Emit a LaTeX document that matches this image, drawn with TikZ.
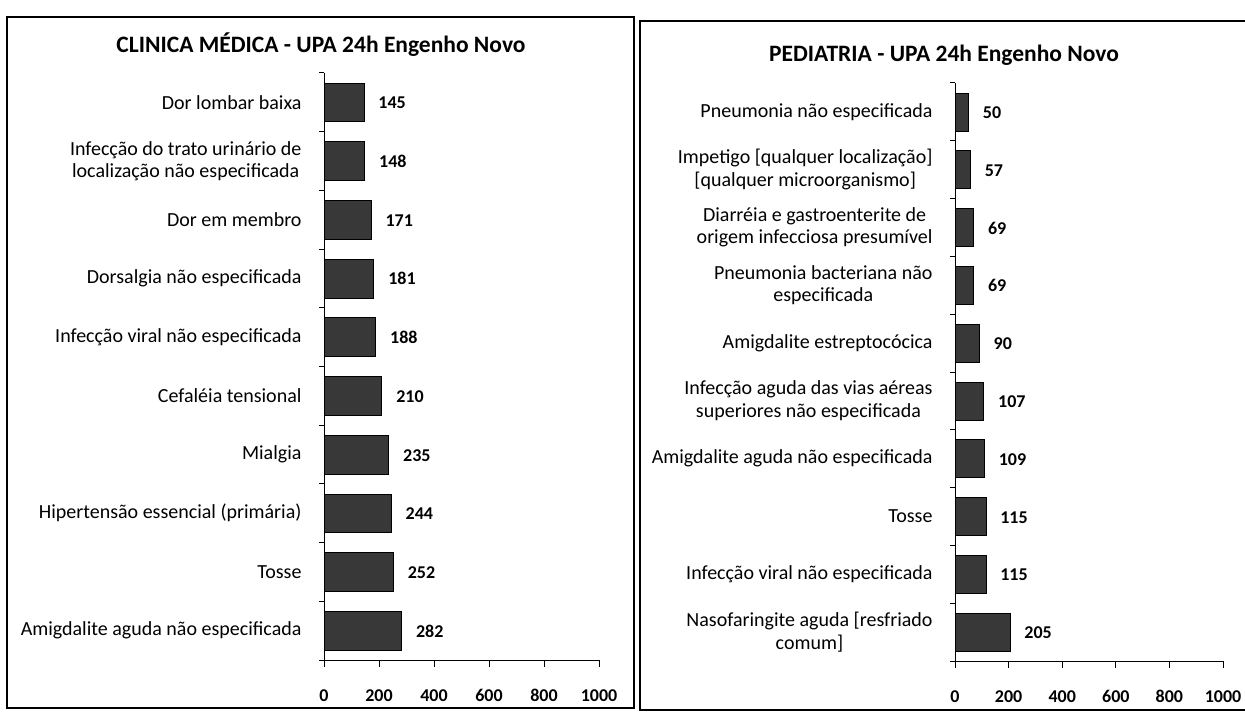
\documentclass[tikz,border=0pt]{standalone}
\usepackage{fontspec}
\setmainfont{Carlito}

\begin{document}
\begin{tikzpicture}[x=1pt, y=-1pt,
    bar/.style={draw=black, fill=black!78, line width=0.6pt},
    cat/.style={anchor=east, align=center, xshift=-19pt, font=\fontsize{20}{22.5}\selectfont},
    val/.style={anchor=base west, xshift=11pt, yshift=-6.5pt, font=\bfseries\fontsize{18}{20}\selectfont},
    tick/.style={anchor=base, yshift=-41.5pt, font=\bfseries\fontsize{18}{20}\selectfont},
    heading/.style={font=\bfseries\fontsize{23.5}{26}\selectfont}]

    \useasboundingbox (0,0) rectangle (1245,717);
    \fill[white] (0,0) rectangle (1245,717);

    % panels
    \draw[line width=1.2pt] (7,17) rectangle (634,708);
    \draw[line width=1.2pt] (1250,21) -- (640,21) -- (640,710) -- (1250,710);
    \node[heading] (cm-title) at (321,45) {CLINICA MÉDICA - UPA 24h Engenho Novo};
    \node[heading] (ped-title) at (944,55) {PEDIATRIA - UPA 24h Engenho Novo};

    % clinica medica
    \begin{scope}[shift={(324pt,-73pt)}, x=0.275pt, y=-58.7pt]
    \draw[line width=1pt] (0,0) -- (0,10) -- (1000,10);
    \foreach \k in {0,...,10} \draw[line width=1pt] (0,\k) -- ++(-5pt,0);
    \foreach \t in {0,200,...,1000} {
        \draw[line width=1pt] (\t,10) -- ++(0,-7pt);
        \node[tick] (cm-tick-\t) at (\t,10) {\t};
    }
    \filldraw[bar] (0,0.17) rectangle (145,0.83);
    \node[cat] (cm-lab-1) at (0,0.5) {Dor lombar baixa};
    \node[val] (cm-val-1) at (145,0.5) {145};
    \filldraw[bar] (0,1.17) rectangle (148,1.83);
    \node[cat] (cm-lab-2) at (0,1.5) {Infecção do trato urinário de\\localização não especificada};
    \node[val] (cm-val-2) at (148,1.5) {148};
    \filldraw[bar] (0,2.17) rectangle (171,2.83);
    \node[cat] (cm-lab-3) at (0,2.5) {Dor em membro};
    \node[val] (cm-val-3) at (171,2.5) {171};
    \filldraw[bar] (0,3.17) rectangle (181,3.83);
    \node[cat] (cm-lab-4) at (0,3.5) {Dorsalgia não especificada};
    \node[val] (cm-val-4) at (181,3.5) {181};
    \filldraw[bar] (0,4.17) rectangle (188,4.83);
    \node[cat] (cm-lab-5) at (0,4.5) {Infecção viral não especificada};
    \node[val] (cm-val-5) at (188,4.5) {188};
    \filldraw[bar] (0,5.17) rectangle (210,5.83);
    \node[cat] (cm-lab-6) at (0,5.5) {Cefaléia tensional};
    \node[val] (cm-val-6) at (210,5.5) {210};
    \filldraw[bar] (0,6.17) rectangle (235,6.83);
    \node[cat] (cm-lab-7) at (0,6.5) {Mialgia};
    \node[val] (cm-val-7) at (235,6.5) {235};
    \filldraw[bar] (0,7.17) rectangle (244,7.83);
    \node[cat] (cm-lab-8) at (0,7.5) {Hipertensão essencial (primária)};
    \node[val] (cm-val-8) at (244,7.5) {244};
    \filldraw[bar] (0,8.17) rectangle (252,8.83);
    \node[cat] (cm-lab-9) at (0,8.5) {Tosse};
    \node[val] (cm-val-9) at (252,8.5) {252};
    \filldraw[bar] (0,9.17) rectangle (282,9.83);
    \node[cat] (cm-lab-10) at (0,9.5) {Amigdalite aguda não especificada};
    \node[val] (cm-val-10) at (282,9.5) {282};
    \end{scope}

    % pediatria
    \begin{scope}[shift={(955pt,-83pt)}, x=0.268pt, y=-57.8pt]
    \draw[line width=1pt] (0,0) -- (0,10) -- (1000,10);
    \foreach \k in {0,...,10} \draw[line width=1pt] (0,\k) -- ++(-5pt,0);
    \foreach \t in {0,200,...,1000} {
        \draw[line width=1pt] (\t,10) -- ++(0,-7pt);
        \node[tick] (ped-tick-\t) at (\t,10) {\t};
    }
    \filldraw[bar] (0,0.17) rectangle (50,0.83);
    \node[cat] (ped-lab-1) at (0,0.5) {Pneumonia não especificada};
    \node[val] (ped-val-1) at (50,0.5) {50};
    \filldraw[bar] (0,1.17) rectangle (57,1.83);
    \node[cat] (ped-lab-2) at (0,1.5) {Impetigo [qualquer localização]\\{}[qualquer microorganismo]};
    \node[val] (ped-val-2) at (57,1.5) {57};
    \filldraw[bar] (0,2.17) rectangle (69,2.83);
    \node[cat] (ped-lab-3) at (0,2.5) {Diarréia e gastroenterite de\\origem infecciosa presumível};
    \node[val] (ped-val-3) at (69,2.5) {69};
    \filldraw[bar] (0,3.17) rectangle (69,3.83);
    \node[cat] (ped-lab-4) at (0,3.5) {Pneumonia bacteriana não\\especificada};
    \node[val] (ped-val-4) at (69,3.5) {69};
    \filldraw[bar] (0,4.17) rectangle (90,4.83);
    \node[cat] (ped-lab-5) at (0,4.5) {Amigdalite estreptocócica};
    \node[val] (ped-val-5) at (90,4.5) {90};
    \filldraw[bar] (0,5.17) rectangle (107,5.83);
    \node[cat] (ped-lab-6) at (0,5.5) {Infecção aguda das vias aéreas\\superiores não especificada};
    \node[val] (ped-val-6) at (107,5.5) {107};
    \filldraw[bar] (0,6.17) rectangle (109,6.83);
    \node[cat] (ped-lab-7) at (0,6.5) {Amigdalite aguda não especificada};
    \node[val] (ped-val-7) at (109,6.5) {109};
    \filldraw[bar] (0,7.17) rectangle (115,7.83);
    \node[cat] (ped-lab-8) at (0,7.5) {Tosse};
    \node[val] (ped-val-8) at (115,7.5) {115};
    \filldraw[bar] (0,8.17) rectangle (115,8.83);
    \node[cat] (ped-lab-9) at (0,8.5) {Infecção viral não especificada};
    \node[val] (ped-val-9) at (115,8.5) {115};
    \filldraw[bar] (0,9.17) rectangle (205,9.83);
    \node[cat] (ped-lab-10) at (0,9.5) {Nasofaringite aguda [resfriado\\comum]};
    \node[val] (ped-val-10) at (205,9.5) {205};
    \end{scope}
\end{tikzpicture}
\end{document}
